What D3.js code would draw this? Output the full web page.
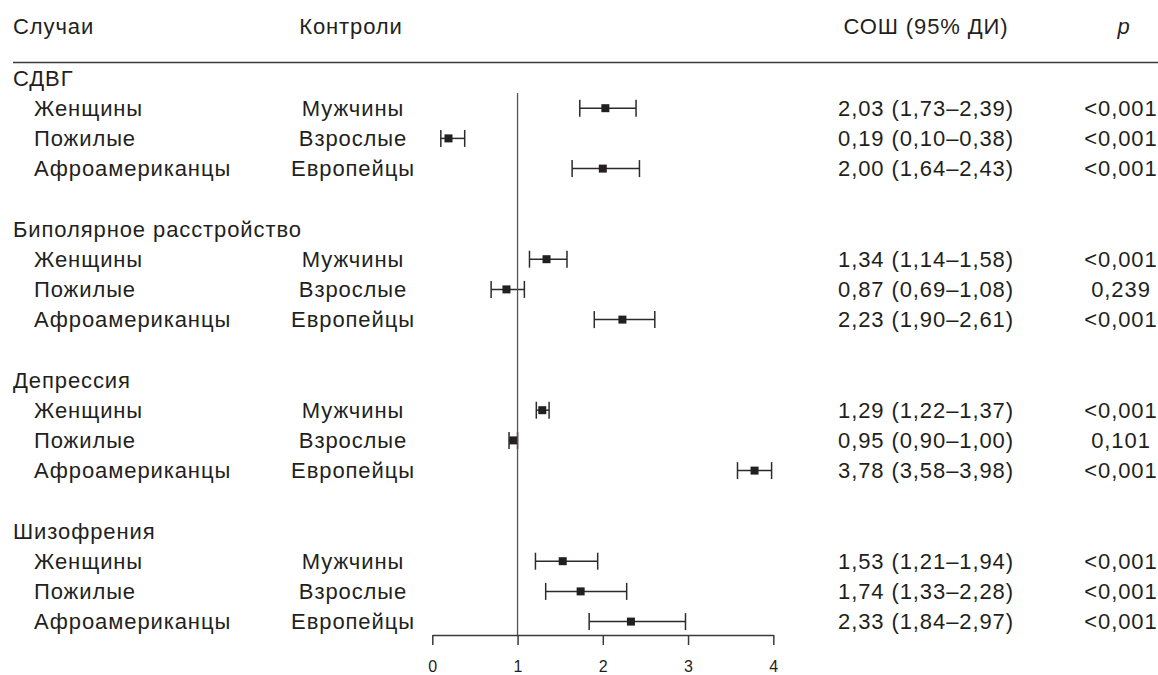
<!DOCTYPE html>
<html>
<head>
<meta charset="utf-8">
<script src="https://cdn.jsdelivr.net/npm/d3@7"></script>
<style>
  body { margin: 0; background: #fff; }
  text { font-family: "Liberation Sans", Arial, sans-serif; fill: #231f20; }
</style>
</head>
<body>
<div id="chart"></div>
<script>
// data
var groups = ["СДВГ", "Биполярное расстройство", "Депрессия", "Шизофрения"];
var cases = ["Женщины", "Пожилые", "Афроамериканцы"];
var controls = ["Мужчины", "Взрослые", "Европейцы"];
var oddsRatio = [2.03, 0.19, 2.00, 1.34, 0.87, 2.23, 1.29, 0.95, 3.78, 1.53, 1.74, 2.33];
var ciLow     = [1.73, 0.10, 1.64, 1.14, 0.69, 1.90, 1.22, 0.90, 3.58, 1.21, 1.33, 1.84];
var ciHigh    = [2.39, 0.38, 2.43, 1.58, 1.08, 2.61, 1.37, 1.00, 3.98, 1.94, 2.28, 2.97];
var pValues = ["<0,001", "<0,001", "<0,001", "<0,001", "0,239", "<0,001",
               "<0,001", "0,101", "<0,001", "<0,001", "<0,001", "<0,001"];
var xTicks = [0, 1, 2, 3, 4];

var width = 1158, height = 675;
var fs = 22, ls = "0.9px";

var svg = d3.select("#chart").append("svg")
  .attr("width", width)
  .attr("height", height);

var x = d3.scaleLinear().domain([0, 4]).range([432.3, 773.3]);
// row index: each group = header + 3 rows + blank
var y = d3.scaleLinear().domain([0, 18]).range([78, 621.6]);

var fmt = function(v) { return d3.format(".2f")(v).replace(".", ","); };

// build row table
var rows = [];
groups.forEach(function(g, gi) {
  cases.forEach(function(c, ci) {
    var k = gi * 3 + ci;
    rows.push({
      idx: gi * 5 + ci + 1,
      cs: c, ctrl: controls[ci],
      or: oddsRatio[k], lo: ciLow[k], hi: ciHigh[k], p: pValues[k]
    });
  });
});

// header
var head = svg.append("g").attr("font-size", fs).attr("letter-spacing", ls);
head.append("text").attr("x", 13).attr("y", 34).text("Случаи");
head.append("text").attr("x", 351).attr("y", 34).attr("text-anchor", "middle").text("Контроли");
head.append("text").attr("x", 926).attr("y", 34).attr("text-anchor", "middle").text("СОШ (95% ДИ)");
head.append("text").attr("x", 1124).attr("y", 34).attr("text-anchor", "middle")
  .attr("font-style", "italic").text("p");

svg.append("line")
  .attr("x1", 13).attr("x2", 1158)
  .attr("y1", 62.5).attr("y2", 62.5)
  .attr("stroke", "#3a3a3a").attr("stroke-width", 1.3);

// group headers
svg.selectAll(".grp").data(groups).enter().append("text")
  .attr("class", "grp")
  .attr("x", 13)
  .attr("y", function(d, i) { return y(i * 5); })
  .attr("dy", "0.35em")
  .attr("font-size", fs)
  .attr("letter-spacing", ls)
  .text(function(d) { return d; });

var rowG = svg.selectAll(".row").data(rows).enter().append("g")
  .attr("class", "row")
  .attr("transform", function(d) { return "translate(0," + y(d.idx) + ")"; })
  .attr("font-size", fs)
  .attr("letter-spacing", ls);

rowG.append("text").attr("x", 34).attr("dy", "0.35em").text(function(d) { return d.cs; });
rowG.append("text").attr("x", 353).attr("dy", "0.35em").attr("text-anchor", "middle")
  .text(function(d) { return d.ctrl; });
rowG.append("text").attr("x", 926).attr("dy", "0.35em").attr("text-anchor", "middle")
  .text(function(d) { return fmt(d.or) + " (" + fmt(d.lo) + "–" + fmt(d.hi) + ")"; });
rowG.append("text").attr("x", 1121).attr("dy", "0.35em").attr("text-anchor", "middle")
  .text(function(d) { return d.p; });

// reference line at OR = 1
svg.append("line")
  .attr("x1", x(1)).attr("x2", x(1))
  .attr("y1", 93).attr("y2", 635)
  .attr("stroke", "#555").attr("stroke-width", 1.3);

// CI whiskers
var ci = rowG.append("g").attr("stroke", "#2b2b2b").attr("stroke-width", 1.5);
ci.append("line")
  .attr("x1", function(d) { return x(d.lo); })
  .attr("x2", function(d) { return x(d.hi); });
ci.append("line")
  .attr("x1", function(d) { return x(d.lo); }).attr("x2", function(d) { return x(d.lo); })
  .attr("y1", -8.5).attr("y2", 8.5);
ci.append("line")
  .attr("x1", function(d) { return x(d.hi); }).attr("x2", function(d) { return x(d.hi); })
  .attr("y1", -8.5).attr("y2", 8.5);

rowG.append("rect")
  .attr("x", function(d) { return x(d.or) - 4; })
  .attr("y", -4)
  .attr("width", 8).attr("height", 8)
  .attr("fill", "#231f20");

// axis
var axis = svg.append("g")
  .attr("transform", "translate(0,635)")
  .call(d3.axisBottom(x).tickValues(xTicks).tickSize(10).tickSizeOuter(0).tickPadding(16)
    .tickFormat(d3.format("d")));
axis.select(".domain").attr("stroke", "#3a3a3a").attr("stroke-width", 1.5);
axis.selectAll(".tick line").attr("stroke", "#3a3a3a").attr("stroke-width", 1.5);
axis.selectAll(".tick text").style("font-size", "16px")
  .style("font-family", "Liberation Sans, Arial, sans-serif")
  .attr("fill", "#231f20");
</script>
</body>
</html>
